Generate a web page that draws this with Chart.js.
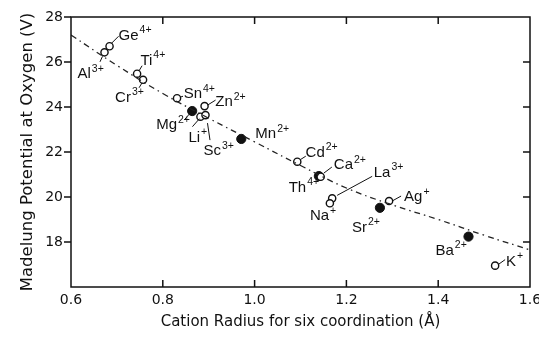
<!DOCTYPE html>
<html>
<head>
<meta charset="utf-8">
<script src="https://cdn.jsdelivr.net/npm/chart.js@4.4.1/dist/chart.umd.min.js"></script>
<style>
  html, body { margin: 0; padding: 0; background: #fff; }
</style>
</head>
<body>
<canvas id="chart" width="539" height="340"></canvas>
<script>
// ions
const ions = ['Ge', 'Al', 'Ti', 'Cr', 'Sn', 'Mg', 'Zn', 'Li', 'Sc', 'Mn', 'Cd', 'Th', 'Ca', 'La', 'Na', 'Sr', 'Ag', 'Ba', 'K'];
const charges = ['4+', '3+', '4+', '3+', '4+', '2+', '2+', '+', '3+', '2+', '2+', '4+', '2+', '3+', '+', '2+', '+', '2+', '+'];
const radii = [0.684, 0.673, 0.744, 0.757, 0.831, 0.864, 0.891, 0.882, 0.893, 0.971, 1.093, 1.144, 1.140, 1.169, 1.164, 1.273, 1.293, 1.466, 1.524];
const potentials = [26.70, 26.43, 25.48, 25.21, 24.39, 23.82, 24.04, 23.57, 23.64, 22.58, 21.57, 20.90, 20.93, 19.94, 19.72, 19.52, 19.82, 18.24, 16.95];
const filled = [0, 0, 0, 0, 0, 1, 0, 0, 0, 1, 0, 0, 1, 0, 0, 1, 0, 1, 0];

// dash-dot trend line
const fitRadii = [0.6, 0.7, 0.8, 0.9, 1.0, 1.1, 1.2, 1.3, 1.4, 1.5, 1.6];
const fitPotentials = [27.2, 25.85, 24.6, 23.5, 22.45, 21.4, 20.4, 19.65, 19.0, 18.3, 17.65];

const xTicks = [0.6, 0.8, 1.0, 1.2, 1.4, 1.6];
const yTicks = [18, 20, 22, 24, 26, 28];

// label placement, pixels relative to the point: [dx, dy of baseline]
const labelPos = [
  [9, -6.6], [-27, 25.7], [3.3, -9], [-28, 22], [6.6, 0], [-36, 18], [10.7, 0],
  [-12, 25], [-2, 40], [14, -0.7], [8.3, -5], [-32, 15], [15, -6.7], [41.6, -21.6],
  [-20, 16.7], [-28, 24], [15, 0], [-33, 18.3], [11, 0]
];
// leader lines, pixels relative to the point
const leaders = [
  [2, -3, 9, -10], [-2, 4, -4.5, 9.5], [2, -3, 5, -8], [-1, 3, -4, 8], [3, -1, 6, -2],
  [-2, 2, -8, 9], [3, -1, 11, -6], [-1, 2, -8, 10], [2, 8, 4.5, 25], null,
  [3, -2, 8.5, -5.5], null, [5, -3, 13, -9], [5, -3, 40, -22], null, null,
  [3, 0, 12, -5], null, [3, -1, 10, -6]
];

const ink = '#111';
const tickFont = { family: 'DejaVu Sans', size: 14 };

const pick = (flag) => radii
  .map((x, i) => ({ x, y: potentials[i], f: filled[i] }))
  .filter(p => p.f === flag);

// frame, tick marks, labels
const annotate = {
  id: 'annotate',
  afterDatasetsDraw(chart) {
    const { ctx, chartArea: a, scales: { x, y } } = chart;
    ctx.save();
    ctx.strokeStyle = ink;
    ctx.lineWidth = 1.5;
    ctx.strokeRect(a.left, a.top, a.right - a.left, a.bottom - a.top);

    ctx.beginPath();
    yTicks.forEach(v => {
      const py = y.getPixelForValue(v);
      ctx.moveTo(a.left - 7, py); ctx.lineTo(a.left, py);
      if (v < 28) { ctx.moveTo(a.right - 7, py); ctx.lineTo(a.right, py); }
    });
    xTicks.slice(1, -1).forEach(v => {
      const px = x.getPixelForValue(v);
      ctx.moveTo(px, a.bottom); ctx.lineTo(px, a.bottom - 7);
      ctx.moveTo(px, a.top); ctx.lineTo(px, a.top + 7);
    });
    ctx.stroke();

    ctx.lineWidth = 1;
    ctx.fillStyle = ink;
    ctx.textBaseline = 'alphabetic';
    ions.forEach((name, i) => {
      const px = x.getPixelForValue(radii[i]);
      const py = y.getPixelForValue(potentials[i]);
      const l = leaders[i];
      if (l) {
        ctx.beginPath();
        ctx.moveTo(px + l[0], py + l[1]);
        ctx.lineTo(px + l[2], py + l[3]);
        ctx.stroke();
      }
      const tx = px + labelPos[i][0];
      const ty = py + labelPos[i][1];
      ctx.font = '15px "Liberation Sans"';
      ctx.fillText(name, tx, ty);
      const w = ctx.measureText(name).width;
      ctx.font = '10.5px "Liberation Sans"';
      ctx.fillText(charges[i], tx + w + 1, ty - 6.5);
    });
    ctx.restore();
  }
};

new Chart(document.getElementById('chart'), {
  type: 'scatter',
  data: {
    datasets: [
      {
        data: fitRadii.map((x, i) => ({ x, y: fitPotentials[i] })),
        showLine: true,
        pointRadius: 0,
        borderColor: '#222',
        borderWidth: 1.3,
        borderDash: [6, 4, 1.5, 4],
        tension: 0.4
      },
      {
        data: pick(0),
        pointRadius: 3.6,
        pointBackgroundColor: '#fff',
        pointBorderColor: ink,
        pointBorderWidth: 1.4
      },
      {
        data: pick(1),
        pointRadius: 4.6,
        pointBackgroundColor: ink,
        pointBorderColor: ink,
        pointBorderWidth: 1
      }
    ]
  },
  options: {
    responsive: false,
    animation: false,
    devicePixelRatio: 1,
    layout: { padding: { top: 17, right: 9, left: 0, bottom: 0 } },
    plugins: { legend: { display: false }, tooltip: { enabled: false } },
    scales: {
      x: {
        type: 'linear',
        min: 0.6,
        max: 1.6,
        afterBuildTicks: (s) => { s.ticks = xTicks.map(value => ({ value })); },
        afterFit: (s) => { s.height = 53; s.paddingLeft = 0; s.paddingRight = 0; },
        grid: { display: false, drawTicks: false },
        border: { display: false },
        ticks: { color: ink, font: tickFont, padding: 5, callback: (v) => v.toFixed(1) },
        title: {
          display: true,
          text: 'Cation Radius for six coordination (Å)',
          color: ink,
          font: { family: 'DejaVu Sans', size: 15 },
          padding: { top: 0, bottom: 9 }
        }
      },
      y: {
        type: 'linear',
        min: 16,
        max: 28,
        afterBuildTicks: (s) => { s.ticks = yTicks.map(value => ({ value })); },
        afterFit: (s) => { s.width = 71; s.paddingTop = 0; s.paddingBottom = 0; },
        grid: { display: false, drawTicks: false },
        border: { display: false },
        ticks: { color: ink, font: tickFont, padding: 8 },
        title: {
          display: true,
          text: 'Madelung Potential at Oxygen (V)',
          color: ink,
          font: { family: 'DejaVu Sans', size: 16.5 },
          padding: { top: 18, bottom: 0 }
        }
      }
    }
  },
  plugins: [annotate]
});
</script>
</body>
</html>
